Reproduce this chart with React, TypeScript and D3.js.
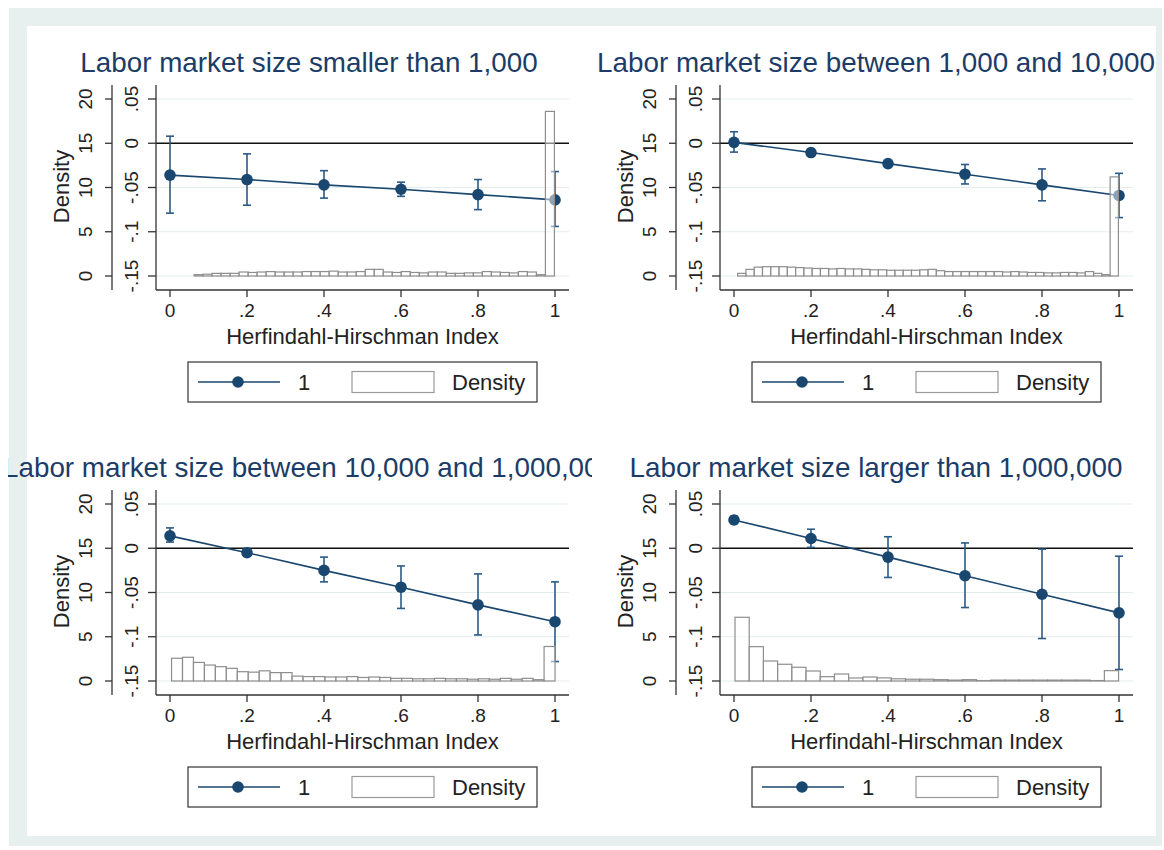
import * as d3 from "d3";

// x axis: Herfindahl-Hirschman Index
const hhiTicks = [0, 0.2, 0.4, 0.6, 0.8, 1];
const hhiTickLabels = ["0", ".2", ".4", ".6", ".8", "1"];

// left axes
const densityTicks = [0, 5, 10, 15, 20];
const densityTickLabels = ["0", "5", "10", "15", "20"];
const coefTicks = [-0.15, -0.1, -0.05, 0, 0.05];
const coefTickLabels = ["-.15", "-.1", "-.05", "0", ".05"];

const panelTitles = [
  "Labor market size smaller than 1,000",
  "Labor market size between 1,000 and 10,000",
  "Labor market size between 10,000 and 1,000,000",
  "Labor market size larger than 1,000,000",
];

const legendLabels = ["1", "Density"];

// coefficients and 95% CI per HHI point
const coefSmall = [-0.036, -0.041, -0.047, -0.052, -0.058, -0.064];
const ciLowSmall = [-0.079, -0.07, -0.062, -0.06, -0.075, -0.094];
const ciHighSmall = [0.008, -0.012, -0.031, -0.044, -0.041, -0.032];

const coefMid = [0.001, -0.0105, -0.023, -0.035, -0.047, -0.059];
const ciLowMid = [-0.01, -0.014, -0.026, -0.046, -0.065, -0.084];
const ciHighMid = [0.013, -0.007, -0.02, -0.024, -0.029, -0.034];

const coefLarge = [0.014, -0.005, -0.025, -0.044, -0.064, -0.083];
const ciLowLarge = [0.007, -0.007, -0.038, -0.068, -0.098, -0.128];
const ciHighLarge = [0.023, -0.003, -0.01, -0.02, -0.029, -0.038];

const coefHuge = [0.032, 0.011, -0.01, -0.031, -0.052, -0.073];
const ciLowHuge = [0.028, 0.001, -0.033, -0.067, -0.102, -0.137];
const ciHighHuge = [0.036, 0.0215, 0.013, 0.006, -0.001, -0.009];

// histogram densities (bin start, bin width, heights)
const histSmallStart = 0.0625;
const histSmallWidth = 0.0234;
const histSmall = [
  0.15, 0.2, 0.3, 0.3, 0.3, 0.45, 0.4, 0.45, 0.5, 0.45, 0.45, 0.45, 0.5, 0.5,
  0.5, 0.55, 0.45, 0.45, 0.5, 0.75, 0.75, 0.45, 0.4, 0.5, 0.4, 0.35, 0.45,
  0.45, 0.3, 0.3, 0.35, 0.35, 0.5, 0.45, 0.4, 0.35, 0.5, 0.45, 0.15, 18.6,
];

const histMidStart = 0.0095;
const histMidWidth = 0.0215;
const histMid = [
  0.3, 0.75, 1.0, 1.05, 1.05, 1.05, 1.0, 0.95, 0.9, 0.85, 0.85, 0.8, 0.85, 0.8,
  0.8, 0.75, 0.7, 0.7, 0.65, 0.65, 0.65, 0.65, 0.7, 0.75, 0.6, 0.5, 0.5, 0.5,
  0.5, 0.5, 0.5, 0.5, 0.45, 0.5, 0.45, 0.4, 0.4, 0.35, 0.35, 0.4, 0.4, 0.35,
  0.5, 0.3, 0.15, 11.2,
];

const histLargeStart = 0.004;
const histLargeWidth = 0.02846;
const histLarge = [
  2.57, 2.68, 2.1, 1.8, 1.62, 1.43, 1.05, 1.0, 1.15, 0.95, 0.95, 0.55, 0.5,
  0.5, 0.45, 0.45, 0.5, 0.4, 0.45, 0.4, 0.3, 0.3, 0.25, 0.25, 0.3, 0.25, 0.25,
  0.2, 0.25, 0.2, 0.3, 0.2, 0.3, 0.15, 3.9,
];

const histHugeStart = 0.0026;
const histHugeWidth = 0.0369;
const histHuge = [
  7.2, 3.88, 2.26, 1.89, 1.55, 1.13, 0.49, 0.79, 0.34, 0.45, 0.35, 0.25, 0.2,
  0.2, 0.15, 0.1, 0.15, 0.05, 0.1, 0.1, 0.1, 0.1, 0.1, 0.1, 0.1, 0.05, 1.17,
];

const navy = "#1a476f";
const titleColor = "#1c3c68";
const font = "'Liberation Sans', Arial, Helvetica, sans-serif";

const panels = [
  { ox: 0, oy: 0, titleX: 309, clip: "clipL", coef: coefSmall, lo: ciLowSmall, hi: ciHighSmall, hist: histSmall, start: histSmallStart, width: histSmallWidth },
  { ox: 564, oy: 0, titleX: 876, clip: "clipR", coef: coefMid, lo: ciLowMid, hi: ciHighMid, hist: histMid, start: histMidStart, width: histMidWidth },
  { ox: 0, oy: 405, titleX: 309, clip: "clipL", coef: coefLarge, lo: ciLowLarge, hi: ciHighLarge, hist: histLarge, start: histLargeStart, width: histLargeWidth },
  { ox: 564, oy: 405, titleX: 876, clip: "clipR", coef: coefHuge, lo: ciLowHuge, hi: ciHighHuge, hist: histHuge, start: histHugeStart, width: histHugeWidth },
];

function Panel({ p, title }: { p: any; title: string }) {
  const { ox, oy } = p;
  const x = d3.scaleLinear().domain([0, 1]).range([ox + 170, ox + 555]);
  const yD = d3.scaleLinear().domain([0, 20]).range([oy + 276, oy + 99]);
  const yC = d3.scaleLinear().domain([-0.15, 0.05]).range([oy + 276, oy + 99]);
  const left = ox + 156, right = ox + 569, top = oy + 85, bottom = oy + 290;
  const outerX = ox + 112;

  const line = d3
    .line<number>()
    .x((_, i) => x(hhiTicks[i]))
    .y((d) => yC(d));

  const cx = (left + right) / 2;
  const ly = oy + 382;

  return (
    <g>
      <text
        x={p.titleX}
        y={oy + 72}
        textAnchor="middle"
        fontSize={27.8}
        fill={titleColor}
        clipPath={`url(#${p.clip})`}
      >
        {title}
      </text>

      {/* grid lines */}
      {densityTicks.map((t) => (
        <line key={"g" + t} x1={left} x2={right} y1={yD(t)} y2={yD(t)} stroke="#e4eded" strokeWidth={1.2} />
      ))}
      {/* zero line */}
      <line x1={left} x2={right} y1={yC(0)} y2={yC(0)} stroke="#111" strokeWidth={1.6} />

      {/* confidence intervals */}
      {p.coef.map((_: number, i: number) => (
        <g key={"ci" + i} stroke="#2a5a86" strokeWidth={1.6}>
          <line x1={x(hhiTicks[i])} x2={x(hhiTicks[i])} y1={yC(p.lo[i])} y2={yC(p.hi[i])} />
          <line x1={x(hhiTicks[i]) - 4} x2={x(hhiTicks[i]) + 4} y1={yC(p.lo[i])} y2={yC(p.lo[i])} />
          <line x1={x(hhiTicks[i]) - 4} x2={x(hhiTicks[i]) + 4} y1={yC(p.hi[i])} y2={yC(p.hi[i])} />
        </g>
      ))}
      <path d={line(p.coef) || ""} fill="none" stroke={navy} strokeWidth={1.6} />
      {p.coef.map((c: number, i: number) => (
        <circle key={"m" + i} cx={x(hhiTicks[i])} cy={yC(c)} r={5.8} fill={navy} />
      ))}

      {/* histogram */}
      {p.hist.map((h: number, i: number) => {
        const x0 = x(p.start + i * p.width);
        const x1 = x(p.start + (i + 1) * p.width);
        return (
          <rect
            key={"h" + i}
            x={x0}
            y={yD(h)}
            width={x1 - x0}
            height={yD(0) - yD(h)}
            fill="#fff"
            fillOpacity={0.5}
            stroke="#8e8e8e"
            strokeWidth={1.2}
          />
        );
      })}

      {/* outer density axis */}
      <line x1={outerX} x2={outerX} y1={top} y2={bottom} stroke="#333" strokeWidth={1.3} />
      {densityTicks.map((t, i) => (
        <g key={"d" + t}>
          <line x1={outerX - 7} x2={outerX} y1={yD(t)} y2={yD(t)} stroke="#333" strokeWidth={1.3} />
          <text transform={`translate(${outerX - 20},${yD(t)}) rotate(-90)`} textAnchor="middle" fontSize={19} fill="#222">
            {densityTickLabels[i]}
          </text>
        </g>
      ))}
      <text transform={`translate(${ox + 69},${(top + bottom) / 2 - 1}) rotate(-90)`} textAnchor="middle" fontSize={22} fill="#222">
        Density
      </text>

      {/* inner coefficient axis */}
      <line x1={left} x2={left} y1={top} y2={bottom} stroke="#333" strokeWidth={1.3} />
      {coefTicks.map((t, i) => (
        <g key={"c" + t}>
          <line x1={left - 8} x2={left} y1={yC(t)} y2={yC(t)} stroke="#333" strokeWidth={1.3} />
          <text transform={`translate(${left - 18},${yC(t)}) rotate(-90)`} textAnchor="middle" fontSize={19} fill="#222">
            {coefTickLabels[i]}
          </text>
        </g>
      ))}

      {/* x axis */}
      <line x1={left} x2={right} y1={bottom} y2={bottom} stroke="#333" strokeWidth={1.3} />
      {hhiTicks.map((t, i) => (
        <g key={"x" + t}>
          <line x1={x(t)} x2={x(t)} y1={bottom} y2={bottom + 7} stroke="#333" strokeWidth={1.3} />
          <text x={x(t)} y={bottom + 27} textAnchor="middle" fontSize={19} fill="#222">
            {hhiTickLabels[i]}
          </text>
        </g>
      ))}
      <text x={cx} y={oy + 344} textAnchor="middle" fontSize={22} fill="#222">
        Herfindahl-Hirschman Index
      </text>

      {/* legend */}
      <rect x={cx - 174.5} y={ly - 20} width={349} height={40} fill="#fff" stroke="#333" strokeWidth={1.2} />
      <line x1={cx - 164.5} x2={cx - 82.5} y1={ly} y2={ly} stroke={navy} strokeWidth={1.6} />
      <circle cx={cx - 124.5} cy={ly} r={5.8} fill={navy} />
      <text x={cx - 64.5} y={ly + 8} fontSize={22} fill="#222">
        {legendLabels[0]}
      </text>
      <rect x={cx - 10.5} y={ly - 10.5} width={82} height={21} fill="#fff" stroke="#999" strokeWidth={1.2} />
      <text x={cx + 89.5} y={ly + 8} fontSize={22} fill="#222">
        {legendLabels[1]}
      </text>
    </g>
  );
}

export default function App() {
  return (
    <svg
      width={1164}
      height={850}
      style={{ position: "absolute", left: 0, top: 0 }}
      fontFamily={font}
    >
      <defs>
        <clipPath id="clipL">
          <rect x={8} y={0} width={584} height={850} />
        </clipPath>
        <clipPath id="clipR">
          <rect x={592} y={0} width={572} height={850} />
        </clipPath>
      </defs>
      <rect x={0} y={0} width={1164} height={850} fill="#fff" />
      <rect x={9} y={8} width={1153} height={838} fill="#e8f0ef" />
      <rect x={27} y={26} width={1129} height={810} fill="#fff" />
      {panels.map((p, i) => (
        <Panel key={i} p={p} title={panelTitles[i]} />
      ))}
    </svg>
  );
}
